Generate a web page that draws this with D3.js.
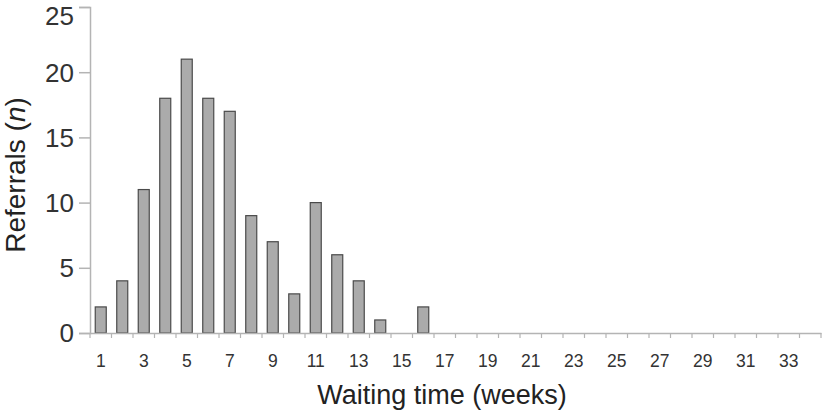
<!DOCTYPE html>
<html><head><meta charset="utf-8">
<script src="https://cdn.jsdelivr.net/npm/d3@7"></script>
<style>body{margin:0;background:#fff}svg{display:block}</style>
</head><body><svg id="c" width="824" height="414"></svg>
<script>
const weeks = d3.range(1, 35);
const referrals = [2,4,11,18,21,18,17,9,7,3,10,6,4,1,0,2,0,0,0,0,0,0,0,0,0,0,0,0,0,0,0,0,0,0];
const yTicks = [0,5,10,15,20,25];
const xTickLabels = weeks.filter(w => w % 2 === 1);

(function(){
const svg = d3.select("#c");
const mLeft = 90, mRight = 821, mTop = 7, mBottom = 333;
const font = "Liberation Sans, Arial, sans-serif";
const x = d3.scaleBand().domain(weeks).range([mLeft, mRight]).paddingInner(0).paddingOuter(0);
const y = d3.scaleLinear().domain([0, 25]).range([mBottom, mTop]);
const axisColor = "#b4b4b4";

// bars
const bw = 11;
svg.append("g").selectAll("rect").data(weeks.map((w,i)=>({w, v: referrals[i]})).filter(d=>d.v>0))
  .join("rect")
  .attr("x", d => x(d.w) + x.bandwidth()/2 - bw/2)
  .attr("y", d => y(d.v))
  .attr("width", bw)
  .attr("height", d => y(0) - y(d.v))
  .attr("fill", "#ababab")
  .attr("stroke", "#4a4a4a")
  .attr("stroke-width", 1.2);

// y axis
const ya = svg.append("g").attr("transform", `translate(${mLeft},0)`)
  .call(d3.axisLeft(y).tickValues(yTicks).tickSize(11).tickPadding(5));
ya.select(".domain").attr("stroke", axisColor).attr("stroke-width", 1.5);
ya.selectAll(".tick line").attr("stroke", axisColor).attr("stroke-width", 1.5);
ya.selectAll(".tick text").attr("font-family", font)
  .attr("font-size", 26).attr("fill", "#333")
  .attr("dy", d => d === 25 ? "0.66em" : "0.34em");

// x axis
const xa = svg.append("g").attr("transform", `translate(0,${mBottom})`)
  .call(d3.axisBottom(x).tickValues(xTickLabels).tickSize(0).tickPadding(22));
xa.select(".domain").attr("stroke", axisColor).attr("stroke-width", 1.5);
xa.selectAll(".tick text").attr("font-family", font)
  .attr("font-size", 17.5).attr("fill", "#333");
// boundary ticks
const bounds = weeks.map(w => x(w)).concat([x(34)+x.bandwidth()]);
svg.append("g").selectAll("line").data(bounds).join("line")
  .attr("x1", d=>d).attr("x2", d=>d).attr("y1", mBottom).attr("y2", mBottom+5)
  .attr("stroke", axisColor).attr("stroke-width", 1.2);

// titles
svg.append("text").attr("x", 442).attr("y", 404).attr("text-anchor", "middle")
  .attr("font-family", font).attr("font-size", 27).attr("fill", "#222")
  .text("Waiting time (weeks)");
const yl = svg.append("text").attr("transform", "translate(25,175) rotate(-90)").attr("text-anchor", "middle")
  .attr("font-family", font).attr("font-size", 28).attr("fill", "#222");
yl.append("tspan").text("Referrals (");
yl.append("tspan").attr("font-style", "italic").text("n");
yl.append("tspan").text(")");
})();
</script></body></html>
